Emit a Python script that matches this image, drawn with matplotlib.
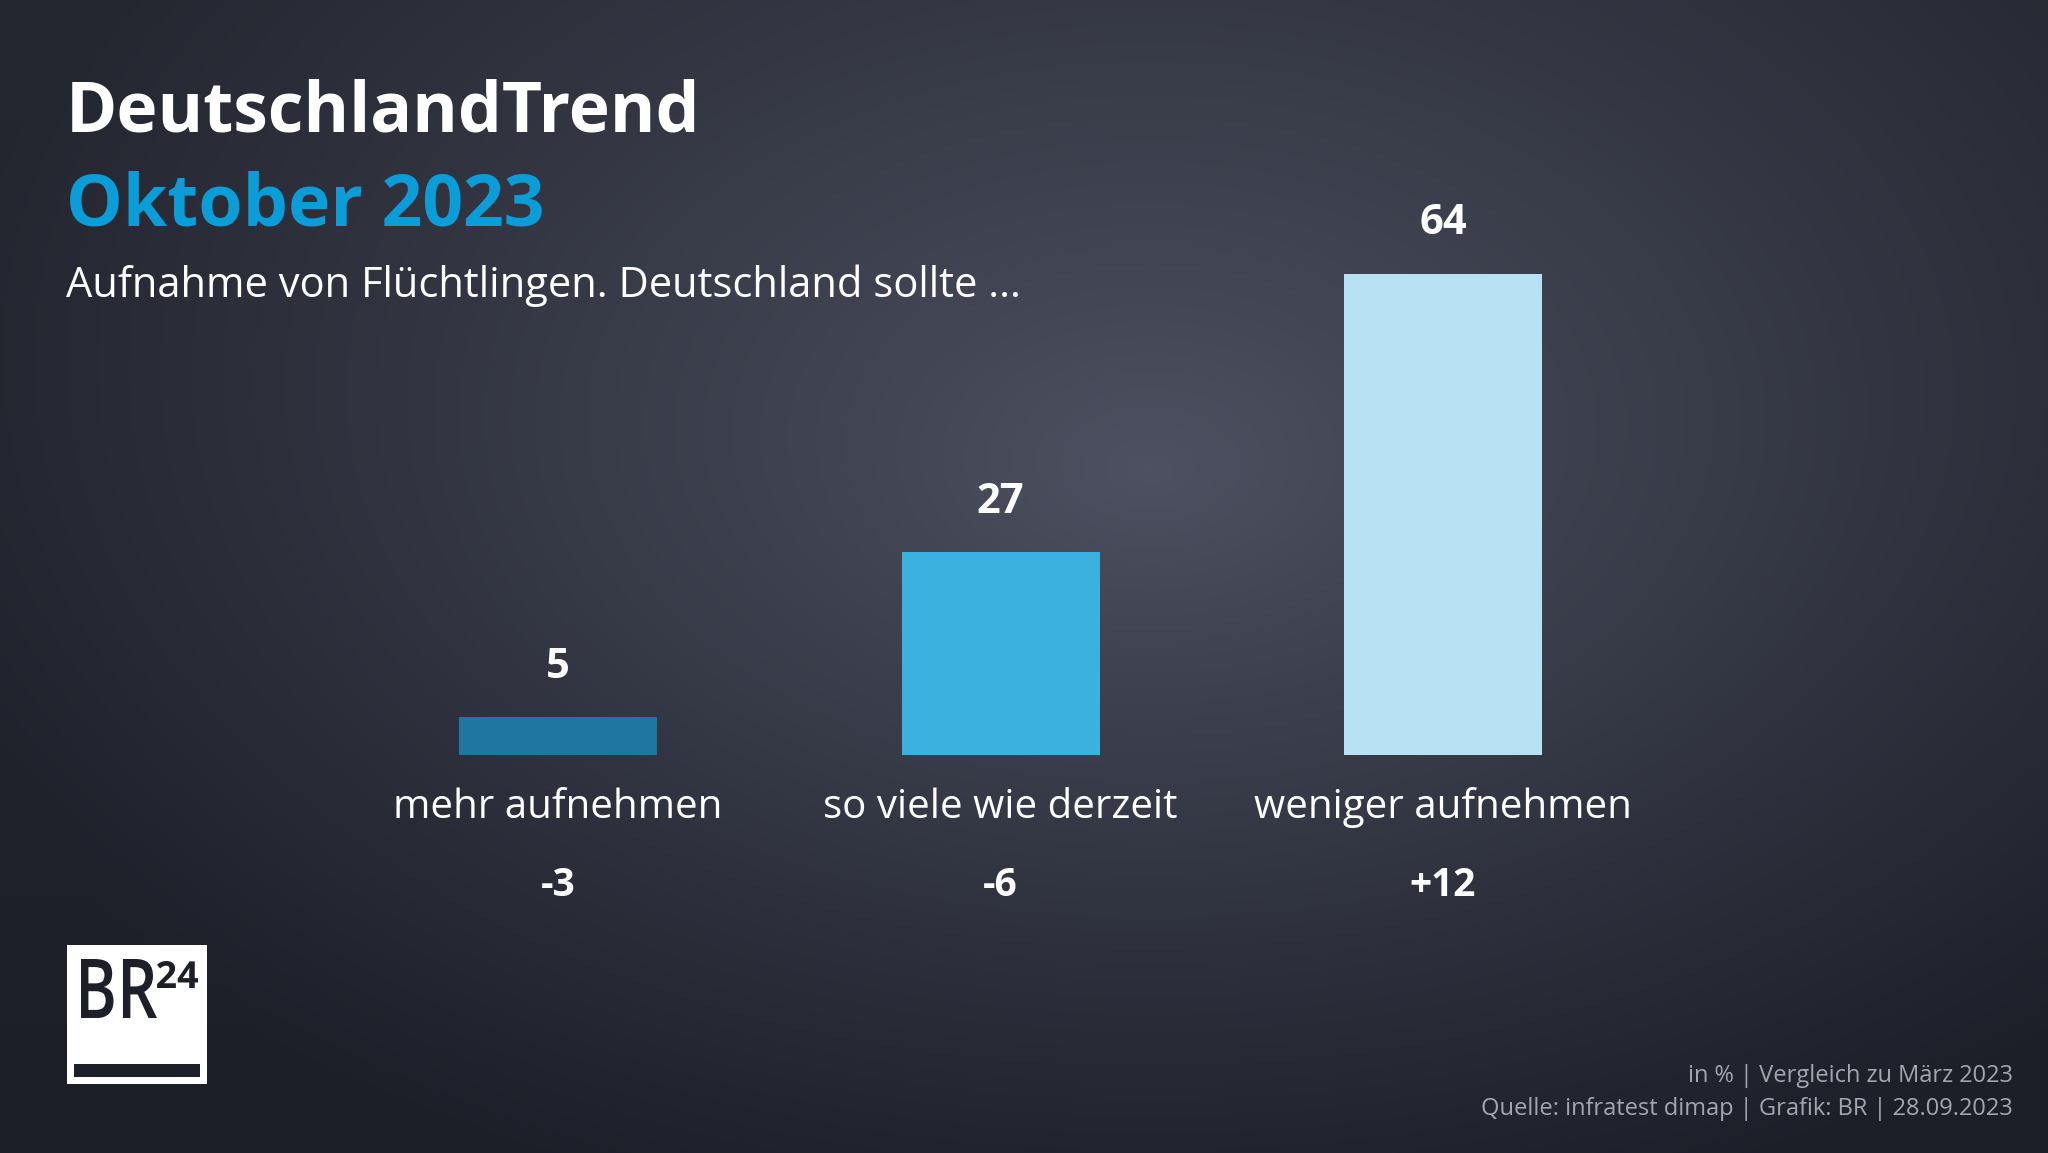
import numpy as np
import matplotlib
matplotlib.use("Agg")
import matplotlib.pyplot as plt
import matplotlib.transforms as mtransforms
from matplotlib.patches import Rectangle, PathPatch
from matplotlib.textpath import TextPath
from matplotlib.font_manager import FontProperties

# ---- data ----
categories = ["mehr aufnehmen", "so viele wie derzeit", "weniger aufnehmen"]
values = [5, 27, 64]
changes = ["-3", "-6", "+12"]
bar_colors = ["#1f76a0", "#3bb1e0", "#b8e1f3"]

title = "DeutschlandTrend"
subtitle_blue = "Oktober 2023"
question = "Aufnahme von Flüchtlingen. Deutschland sollte ..."
footer1 = "in % | Vergleich zu März 2023"
footer2 = "Quelle: infratest dimap | Grafik: BR | 28.09.2023"

FONT = "Open Sans"
W, H = 2048, 1153
fig = plt.figure(figsize=(W / 100, H / 100), dpi=100)

# ---- background radial gradient ----
bg = fig.add_axes([0, 0, 1, 1], zorder=-10)
yy, xx = np.mgrid[0:H, 0:W]
cx, cy = 1150, 470
d = np.sqrt(((xx - cx) / 1250.0) ** 2 + ((yy - cy) / 800.0) ** 2)
d = np.clip(d, 0, 1)
center = np.array([0x48, 0x4c, 0x5c]) / 255
edge = np.array([0x1c, 0x1e, 0x28]) / 255
t = d ** 0.9
img = center[None, None, :] * (1 - t[..., None]) + edge[None, None, :] * t[..., None]
vert = (1 - yy / H)[..., None] * 0.035
img = np.clip(img + vert, 0, 1)
bg.imshow(img, extent=[0, W, H, 0], aspect="auto")
bg.set_xlim(0, W)
bg.set_ylim(H, 0)
bg.axis("off")

# ---- bar axes ----
px_per_unit_x = 442.5
c0 = 558.0
xl = (-c0 / px_per_unit_x, (W - c0) / px_per_unit_x)
bottom_frac = (H - 755) / H
ax = fig.add_axes([0, bottom_frac, 1, 0.652])
ax.set_xlim(*xl)
ax.set_ylim(0, 100)
ax.axis("off")
ax.patch.set_alpha(0)

x = np.arange(len(categories))
ax.bar(x, values, width=198 / px_per_unit_x, color=bar_colors, zorder=2)

for xi, v in zip(x, values):
    ax.annotate(str(v), (xi, v), xytext=(0, 50), textcoords="offset pixels",
                ha="center", va="center", color="white", fontsize=30,
                fontweight="bold", family=FONT)

blend = mtransforms.blended_transform_factory(ax.transData, fig.transFigure)
for xi, cat, ch in zip(x, categories, changes):
    ax.text(xi, 1 - 808 / H, cat, transform=blend, ha="center", va="center",
            color="white", fontsize=29, family=FONT)
    ax.text(xi, 1 - 886 / H, ch, transform=blend, ha="center", va="center",
            color="white", fontsize=28, fontweight="bold", family=FONT)

# ---- titles ----
fig.text(66 / W, 1 - 131 / H, title, ha="left", va="baseline", color="white",
         fontsize=50, fontweight="bold", family=FONT)
fig.text(66 / W, 1 - 226 / H, subtitle_blue, ha="left", va="baseline",
         color="#0a9dd8", fontsize=51.5, fontweight="bold", family=FONT)
fig.text(66 / W, 1 - 297 / H, question, ha="left", va="baseline",
         color="white", fontsize=30, family=FONT)

# ---- footer ----
fig.text(2013 / W, 1 - 1076 / H, footer1, ha="right", va="center",
         color="#a3a6ae", fontsize=17, family=FONT)
fig.text(2013 / W, 1 - 1109 / H, footer2, ha="right", va="center",
         color="#a3a6ae", fontsize=17, family=FONT)

# ---- logo ----
dark = "#1e2029"
bg.add_patch(Rectangle((67, 945), 140, 139, facecolor="white", edgecolor="none"))
bg.add_patch(Rectangle((74, 1064), 126, 13, facecolor=dark, edgecolor="none"))


def place_text(s, x0, y_top, w, h, weight):
    tp = TextPath((0, 0), s, size=100, prop=FontProperties(family=FONT, weight=weight))
    ext = tp.get_extents()
    sx = w / ext.width
    sy = h / ext.height
    tr = (mtransforms.Affine2D()
          .translate(-ext.x0, -ext.y1)
          .scale(sx, -sy)
          .translate(x0, y_top))
    bg.add_patch(PathPatch(tr.transform_path(tp), facecolor=dark, edgecolor="none"))


place_text("BR", 81, 959, 76, 59, "semibold")
place_text("24", 157, 961, 41, 27, "bold")

fig.savefig("out.png", dpi=100)
